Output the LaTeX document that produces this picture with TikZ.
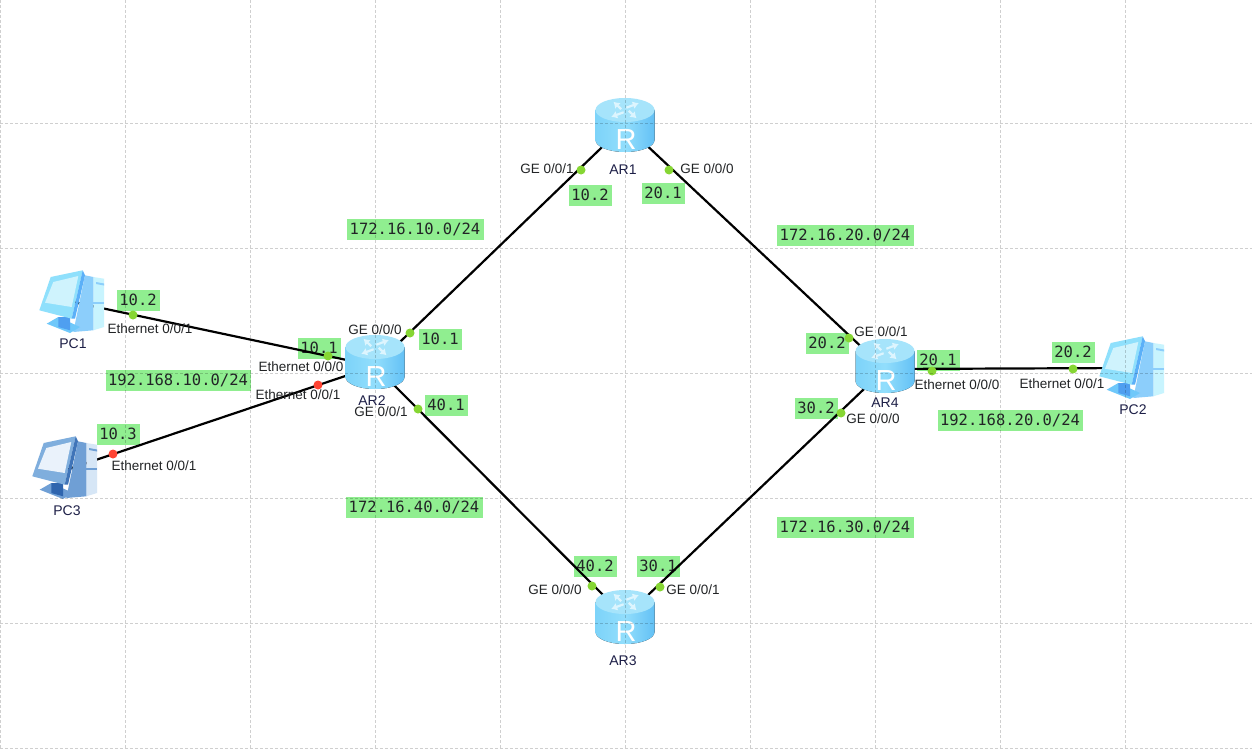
\documentclass[tikz,border=0pt]{standalone}
\usepackage{fontspec}
\setmainfont{Liberation Sans}
\newfontfamily\addrfont{DejaVu Sans Mono}
\usetikzlibrary{arrows.meta,positioning,calc}
\definecolor{Ink}{HTML}{222426}
\definecolor{AddrGreen}{HTML}{90EE90}
\definecolor{PortGreen}{HTML}{86D633}
\definecolor{PortRed}{HTML}{FF4433}
\definecolor{RouterTop}{HTML}{A6E4FB}
\definecolor{RouterLeft}{HTML}{7DD3F9}
\definecolor{RouterMid}{HTML}{92DEFC}
\definecolor{RouterRight}{HTML}{63C0F5}
\definecolor{RouterMark}{HTML}{DDF5FE}
\definecolor{SkyFace}{HTML}{8FE0FC}
\definecolor{SkyScreen}{HTML}{CFF3FD}
\definecolor{SkyEdge}{HTML}{5BB0F8}
\definecolor{SkySide}{HTML}{8CCEFB}
\definecolor{SkyFront}{HTML}{C8F4FE}
\definecolor{SkyBase}{HTML}{6FC8FA}
\definecolor{SkyNeck}{HTML}{4F9FF0}
\definecolor{SteelFace}{HTML}{7FAEDD}
\definecolor{SteelScreen}{HTML}{EAF2FB}
\definecolor{SteelEdge}{HTML}{3F74B8}
\definecolor{SteelSide}{HTML}{6F9FD5}
\definecolor{SteelFront}{HTML}{D6E6F6}
\definecolor{SteelBase}{HTML}{6F9FD5}
\definecolor{SteelNeck}{HTML}{2F65AE}
\tikzset{
  gridline/.style={draw=black,draw opacity=0.19,line width=0.8pt,dash pattern=on 3pt off 2pt},
  link/.style={draw=black,line width=2.2pt},
  anchorpt/.style={inner sep=0pt,minimum size=0pt},
  addr/.style={fill=AddrGreen,inner sep=0pt,minimum height=21pt,font=\addrfont\fontsize{15.5}{16}\selectfont,text=Ink},
  addrshort/.style={addr,minimum width=43pt},
  addrlong/.style={addr,minimum width=137pt},
  port/.style={circle,inner sep=0pt,minimum size=9pt,fill=PortGreen},
  portdown/.style={port,fill=PortRed},
  note/.style={font=\fontsize{13.5}{14}\selectfont,text=Ink,inner sep=0pt},
  devname/.style={font=\fontsize{14}{15}\selectfont,text=Ink!85!blue,inner sep=0pt},
  pics/routericon/.style={code={
    \fill[left color=RouterLeft,right color=RouterRight,middle color=RouterMid]
      (-29.5,-15) -- (-29.5,15) arc[start angle=180,end angle=0,x radius=29.5,y radius=12] -- (29.5,-15) -- cycle;
    \fill[RouterTop] (0,-15) ellipse[x radius=29.5,y radius=12];
    \foreach \a in {20,110,200,290}
      \draw[RouterMark,line width=2.2pt,-{Latex[length=6pt,width=8pt]},shift={(0,-15)},yscale=0.6]
        (\a:4) -- (\a+30:18);
    \node[white,inner sep=0pt,font=\fontsize{29}{29}\selectfont] at (1,15) {R};
  }},
  pics/pcicon/.style={code={
    \fill[#1Front] (20.3,-25) -- (31,-23.3) -- (31,25) -- (20.3,28.3) -- cycle;
    \fill[#1Side] (12,-26.7) -- (20.3,-25) -- (20.3,28.3) -- (0.3,30) -- cycle;
    \fill[#1Side] (23,-20) -- (31,-18.5) -- (31,-16.5) -- (23,-18) -- cycle;
    \fill[#1Side] (20.3,0) -- (31,0) -- (31,2) -- (20.3,2) -- cycle;
    \fill[#1Base] (-26.3,21.7) -- (-14.7,15) -- (7,25) -- (-3,31) -- cycle;
    \fill[#1Neck] (-14.7,15) -- (-3,15) -- (-3,28.3) -- (-14.7,25) -- cycle;
    \fill[#1Face] (-33.7,8.3) -- (-22.3,-25) -- (9.7,-31.7) -- (-1.3,16.7) -- cycle;
    \fill[#1Edge] (9.7,-31.7) -- (12,-26.7) -- (2,16.7) -- (-1.3,16.7) -- cycle;
    \fill[#1Screen] (-28,0.7) -- (-19.7,-20) -- (5.3,-26) -- (-1.3,5) -- cycle;
  }}
}
\begin{document}
\begin{tikzpicture}[x=1pt,y=-1pt]
  \useasboundingbox (0,0) rectangle (1252,749);
  \fill[white] (0,0) rectangle (1252,749);
  % address labels
  \node[addrlong] (net10) at (415,229) {172.16.10.0/24};
  \node[addrlong] (net20) at (845,235) {172.16.20.0/24};
  \node[addrlong] (net40) at (414,507) {172.16.40.0/24};
  \node[addrlong] (net30) at (845,527) {172.16.30.0/24};
  \node[addrlong,minimum width=145pt] (lanleft) at (178,380) {192.168.10.0/24};
  \node[addrlong,minimum width=145pt] (lanright) at (1010,420) {192.168.20.0/24};
  \foreach \name/\x/\y/\txt in {a/138/300/10.2,b/319/348/10.1,c/118/434/10.3,d/440/339/10.1,e/446/405/40.1,
    f/590/195/10.2,g/663/193/20.1,h/827/343/20.2,i/816/408/30.2,j/938/360/20.1,k/1073/352/20.2,l/595/566/40.2,m/658/566/30.1}
    \node[addrshort] (addr\name) at (\x,\y) {\txt};
  % devices
  \node[anchorpt] (ar1) at (625,125) {};
  \node[anchorpt] (ar2) at (375,366) {};
  \node[anchorpt] (ar3) at (625,617) {};
  \node[anchorpt] (ar4) at (885,369) {};
  \node[anchorpt] (pc1) at (73,302) {};
  \node[anchorpt] (pc2) at (1133,368) {};
  \node[anchorpt] (pc3) at (66,470) {};
  % links
  \draw[link] (ar2) -- (ar1);
  \draw[link] (ar1) -- (ar4);
  \draw[link] (ar2) -- (ar3);
  \draw[link] (ar3) -- (ar4);
  \draw[link] (pc1) -- (ar2);
  \draw[link] (pc3) -- (ar2);
  \draw[link] (ar4) -- (pc2);
  % ports
  \foreach \name/\x/\y in {a/133/315,b/328/356,c/410/333,d/418/409,e/581/170,f/669/170,
    g/849/338,h/841/413,i/932/371,j/1073/369,k/592/586,l/660/587}
    \node[port] (port\name) at (\x,\y) {};
  \node[portdown] (portm) at (113,454) {};
  \node[portdown] (portn) at (318,385) {};
  % icons
  \pic at (625,125) {routericon};
  \pic at (375,362) {routericon};
  \pic at (625,617) {routericon};
  \pic at (885,366) {routericon};
  \pic at (73,302) {pcicon=Sky};
  \pic at (1133,368) {pcicon=Sky};
  \pic at (66,468) {pcicon=Steel};
  % grid runs over everything but the small texts
  \foreach \x in {0,125,250,...,1125} \draw[gridline] (\x,0) -- (\x,749);
  \foreach \y in {123,248,373,498,623,748} \draw[gridline] (0,\y) -- (1252,\y);
  % texts
  \node[devname] (nar1) at (623,170) {AR1};
  \node[devname] (nar2) at (372,401) {AR2};
  \node[devname] (nar3) at (623,661) {AR3};
  \node[devname] (nar4) at (885,403) {AR4};
  \node[devname] (npc1) at (73,344) {PC1};
  \node[devname] (npc2) at (1133,410) {PC2};
  \node[devname] (npc3) at (67,511) {PC3};
  \node[note] (ge1) at (547,169) {GE 0/0/1};
  \node[note] (ge2) at (707,169) {GE 0/0/0};
  \node[note] (ge3) at (375,330) {GE 0/0/0};
  \node[note] (ge4) at (381,412) {GE 0/0/1};
  \node[note] (ge5) at (881,332) {GE 0/0/1};
  \node[note] (ge6) at (873,419) {GE 0/0/0};
  \node[note] (ge7) at (555,590) {GE 0/0/0};
  \node[note] (ge8) at (693,590) {GE 0/0/1};
  \node[note] (eth1) at (150,329) {Ethernet 0/0/1};
  \node[note] (eth2) at (301,367) {Ethernet 0/0/0};
  \node[note] (eth3) at (298,395) {Ethernet 0/0/1};
  \node[note] (eth4) at (154,466) {Ethernet 0/0/1};
  \node[note] (eth5) at (957,385) {Ethernet 0/0/0};
  \node[note] (eth6) at (1062,384) {Ethernet 0/0/1};
\end{tikzpicture}
\end{document}
